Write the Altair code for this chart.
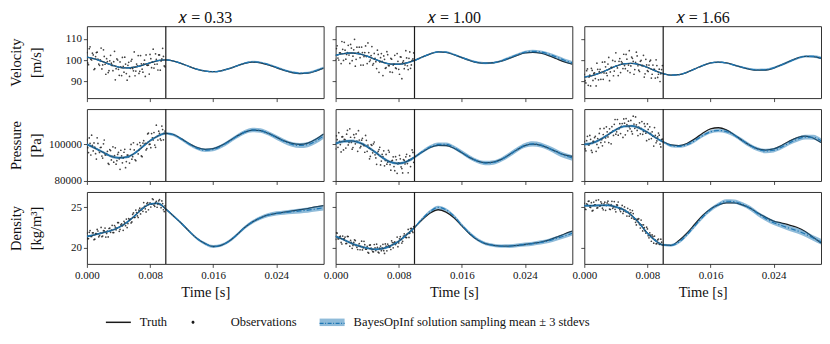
import altair as alt
import pandas as pd

# ---------------- data ----------------
T = [0.000, 0.001, 0.002, 0.003, 0.004, 0.005, 0.006, 0.007, 0.008, 0.009, 0.010,
     0.011, 0.012, 0.013, 0.014, 0.015, 0.016, 0.017, 0.018, 0.019, 0.020,
     0.021, 0.022, 0.023, 0.024, 0.025, 0.026, 0.027, 0.028, 0.029, 0.030]

T_OBS = [0.0000, 0.0002, 0.0004, 0.0006, 0.0008, 0.0010, 0.0012, 0.0014, 0.0016, 0.0018,
         0.0020, 0.0022, 0.0024, 0.0026, 0.0028, 0.0030, 0.0032, 0.0034, 0.0036, 0.0038,
         0.0040, 0.0042, 0.0044, 0.0046, 0.0048, 0.0050, 0.0052, 0.0054, 0.0056, 0.0058,
         0.0060, 0.0062, 0.0064, 0.0066, 0.0068, 0.0070, 0.0072, 0.0074, 0.0076, 0.0078,
         0.0080, 0.0082, 0.0084, 0.0086, 0.0088, 0.0090, 0.0092, 0.0094, 0.0096, 0.0098]
T_OBS2 = [0.0001, 0.0003, 0.0005, 0.0007, 0.0009, 0.0011, 0.0013, 0.0015, 0.0017, 0.0019,
          0.0021, 0.0023, 0.0025, 0.0027, 0.0029, 0.0031, 0.0033, 0.0035, 0.0037, 0.0039,
          0.0041, 0.0043, 0.0045, 0.0047, 0.0049, 0.0051, 0.0053, 0.0055, 0.0057, 0.0059,
          0.0061, 0.0063, 0.0065, 0.0067, 0.0069, 0.0071, 0.0073, 0.0075, 0.0077, 0.0079,
          0.0081, 0.0083, 0.0085, 0.0087, 0.0089, 0.0091, 0.0093, 0.0095, 0.0097, 0.0099]

# Velocity
VEL_TRUTH_033 = [101.5, 100.6, 99.3, 97.9, 96.8, 96.4, 96.7, 97.6, 98.8, 99.8, 100.2, 99.6, 98.4, 97.0, 95.7, 94.9,
                 94.6, 95.0, 96.0, 97.3, 98.5, 99.1, 98.8, 97.8, 96.5, 95.2, 94.2, 93.7, 93.9, 94.9, 96.3]
VEL_MEAN_033 = [101.5, 100.6, 99.3, 97.9, 96.8, 96.4, 96.7, 97.6, 98.8, 99.8, 100.2, 99.6, 98.4, 97.0, 95.7, 94.9,
                94.6, 95.0, 96.0, 97.3, 98.6, 99.3, 99.0, 98.0, 96.7, 95.4, 94.4, 93.9, 94.1, 95.1, 96.5]
VEL_HW_033 = [0.3, 0.3, 0.3, 0.3, 0.3, 0.3, 0.3, 0.3, 0.3, 0.3, 0.3, 0.3, 0.3, 0.3, 0.35, 0.35,
              0.35, 0.4, 0.4, 0.4, 0.4, 0.45, 0.45, 0.45, 0.45, 0.5, 0.5, 0.5, 0.5, 0.5, 0.5]
VEL_OBS_033 = [103.6, 97.9, 106.3, 100.1, 102.5, 96.0, 103.6, 100.5, 97.6, 105.7, 97.8, 101.8, 93.4, 99.4, 95.1,
               102.3, 97.5, 99.3, 90.8, 100.6, 95.7, 99.2, 92.8, 97.1, 101.4, 93.7, 97.6, 92.4, 99.6, 96.1,
               103.9, 94.9, 97.4, 93.8, 102.2, 95.8, 98.3, 92.4, 97.7, 97.7, 102.7, 96.5, 105.2, 98.1, 100.4,
               95.4, 102.5, 99.6, 105.6, 97.3]
VEL_OBS2_033 = [98.7, 105.4, 100.5, 103.3, 95.6, 101.7, 103.8, 98.2, 100.2, 95.9, 104.9, 98.1, 100.7, 94.2, 99.7,
                98.6, 95.1, 104.2, 96.0, 100.1, 92.9, 96.9, 101.3, 94.4, 98.2, 90.6, 99.0, 96.2, 100.4, 95.0,
                92.7, 98.2, 102.2, 94.8, 98.3, 94.4, 100.0, 102.5, 97.6, 93.5, 100.7, 99.1, 96.3, 103.0, 98.2,
                102.5, 95.3, 100.6, 101.8, 96.9]

VEL_TRUTH_100 = [102.3, 103.1, 103.4, 103.0, 101.9, 100.4, 99.0, 98.2, 98.1, 98.7, 99.9, 101.5, 103.0, 103.9, 103.7,
                 102.6, 101.2, 99.9, 98.9, 98.6, 98.8, 99.6, 100.9, 102.3, 103.4, 103.7, 103.3, 102.2, 100.7, 99.2, 98.2]
VEL_MEAN_100 = [102.3, 103.1, 103.4, 103.0, 101.9, 100.4, 99.0, 98.2, 98.1, 98.7, 99.9, 101.5, 103.0, 103.9, 103.8,
                102.7, 101.3, 100.0, 99.0, 98.6, 98.8, 99.7, 101.1, 102.6, 103.8, 104.2, 103.9, 102.9, 101.5, 100.0, 98.8]
VEL_HW_100 = [0.35, 0.35, 0.35, 0.35, 0.35, 0.35, 0.35, 0.35, 0.35, 0.35, 0.35, 0.4, 0.4, 0.4, 0.4, 0.45,
              0.45, 0.45, 0.5, 0.5, 0.5, 0.55, 0.6, 0.6, 0.65, 0.7, 0.7, 0.75, 0.8, 0.8, 0.85]
VEL_OBS_100 = [100.4, 106.8, 100.1, 103.5, 108.8, 99.9, 104.7, 102.7, 107.0, 98.5, 105.7, 101.9, 109.8, 100.4, 103.3,
               106.1, 97.7, 103.6, 101.7, 106.7, 98.4, 103.6, 100.1, 106.4, 98.4, 100.9, 96.1, 102.7, 99.2, 103.1,
               92.8, 100.4, 96.5, 102.6, 97.4, 100.9, 94.3, 98.2, 96.4, 103.1, 95.7, 101.6, 91.3, 99.7, 97.8,
               101.1, 95.6, 103.9, 97.8, 100.6]
VEL_OBS2_100 = [105.5, 101.0, 103.5, 98.4, 105.1, 108.4, 100.5, 103.6, 102.4, 107.4, 99.8, 104.9, 97.2, 106.1, 103.7,
                101.2, 106.2, 97.7, 103.6, 101.7, 108.1, 99.4, 102.2, 97.7, 103.2, 99.3, 104.7, 94.3, 101.2, 99.5,
                102.0, 96.2, 104.0, 97.5, 94.5, 100.5, 97.7, 102.3, 96.1, 99.5, 93.4, 101.5, 99.0, 96.0, 104.5,
                97.4, 100.9, 96.2, 99.9, 103.4]

VEL_TRUTH_166 = [92.1, 92.8, 94.0, 95.6, 97.2, 98.3, 98.5, 97.9, 96.6, 95.0, 93.7, 93.0, 93.2, 94.3, 95.9, 97.5,
                 98.7, 99.1, 98.7, 97.7, 96.6, 95.7, 95.3, 95.4, 96.3, 97.8, 99.5, 101.0, 101.8, 101.7, 100.9]
VEL_MEAN_166 = [92.1, 92.8, 94.0, 95.6, 97.2, 98.3, 98.5, 97.9, 96.6, 95.0, 93.7, 93.0, 93.2, 94.3, 95.9, 97.5,
                98.7, 99.1, 98.7, 97.7, 96.7, 95.9, 95.5, 95.6, 96.4, 97.8, 99.4, 100.9, 101.8, 101.8, 101.1]
VEL_HW_166 = [0.3, 0.3, 0.3, 0.3, 0.3, 0.3, 0.3, 0.3, 0.3, 0.3, 0.3, 0.35, 0.35, 0.35, 0.35, 0.4,
              0.4, 0.4, 0.4, 0.45, 0.45, 0.45, 0.5, 0.5, 0.5, 0.5, 0.55, 0.55, 0.55, 0.6, 0.6]
VEL_OBS_166 = [93.3, 89.3, 95.9, 92.1, 87.9, 95.2, 93.8, 91.4, 98.6, 90.8, 95.7, 94.2, 91.0, 99.2, 93.9,
               98.2, 90.4, 96.6, 99.9, 94.9, 103.5, 96.4, 99.5, 94.2, 98.7, 102.8, 96.0, 100.5, 97.7, 94.2,
               101.5, 99.5, 95.6, 103.8, 97.4, 94.7, 99.9, 97.6, 92.1, 100.4, 95.1, 97.7, 100.0, 93.4, 95.7,
               91.6, 97.5, 93.4, 90.0, 95.6]
VEL_OBS2_166 = [90.4, 95.1, 88.2, 93.0, 96.2, 90.5, 94.0, 87.9, 95.7, 94.6, 91.0, 99.1, 94.0, 96.9, 92.8,
                101.3, 94.5, 96.6, 92.7, 99.5, 97.3, 92.8, 100.8, 99.4, 96.1, 97.5, 102.7, 95.0, 104.5, 97.3,
                100.9, 93.4, 99.0, 102.0, 95.3, 99.5, 97.4, 102.3, 93.6, 97.8, 94.7, 99.5, 91.6, 97.7, 95.7,
                100.2, 91.9, 95.8, 93.6, 97.5]

# Pressure
PRES_TRUTH_033 = [100000, 98000, 95800, 93600, 92700, 93000, 95000, 98500, 102000, 104600, 106000, 105300, 103000,
                  100300, 98200, 97300, 97700, 99300, 101800, 104500, 106700, 107800, 107500, 106000, 104000, 101900,
                  100500, 100000, 100700, 102800, 105700]
PRES_MEAN_033 = [100000, 98000, 95800, 93600, 92700, 93000, 95000, 98500, 102000, 104600, 106000, 105200, 102800,
                 100000, 97800, 96800, 97200, 98900, 101500, 104300, 106700, 107900, 107600, 106000, 103800, 101600,
                 100000, 99400, 99900, 101800, 104600]
PRES_HW_033 = [700, 700, 700, 700, 700, 700, 700, 700, 700, 700, 700, 800, 800, 900, 900, 1000,
               1000, 1000, 1100, 1100, 1100, 1200, 1200, 1200, 1300, 1300, 1300, 1400, 1400, 1500, 1500]
PRES_OBS_033 = [102600, 95500, 100500, 105000, 96400, 98500, 92000, 100500, 95600, 98400, 92500, 102400, 94200,
                96200, 89100, 96600, 93500, 90300, 98100, 91100, 95600, 86400, 93700, 92500, 97300, 90600, 94100,
                89800, 100000, 93300, 97000, 91100, 100000, 96900, 99300, 93300, 102000, 100500, 97700, 106200,
                100100, 105900, 102400, 99600, 110500, 102400, 106000, 102200, 108100, 106200]
PRES_OBS2_033 = [98200, 103500, 94200, 99500, 100800, 94900, 103600, 96700, 98300, 93600, 100300, 94300, 95000,
                 89600, 97200, 91500, 98700, 93900, 89200, 94500, 92100, 96800, 89900, 95700, 87300, 94200, 93200,
                 97300, 91900, 100900, 91600, 96100, 94800, 101000, 93700, 100700, 100000, 97000, 105700, 100000,
                 98200, 103600, 106500, 98400, 104400, 107200, 103000, 110000, 102500, 107300]

PRES_TRUTH_100 = [100500, 101600, 101900, 101000, 98800, 95800, 92600, 90300, 89600, 90600, 93000, 95900, 98300,
                  99500, 99400, 97900, 95400, 92800, 90900, 90000, 90300, 91800, 94300, 97100, 99300, 100100, 99500,
                  97900, 96000, 94300, 93500]
PRES_MEAN_100 = [100500, 101600, 101900, 101000, 98800, 95800, 92600, 90300, 89600, 90600, 93000, 96100, 98700,
                 100000, 100000, 98400, 95700, 92900, 90800, 89800, 90100, 91700, 94300, 97200, 99500, 100300, 99700,
                 98000, 95900, 93900, 92600]
PRES_HW_100 = [800, 800, 800, 800, 800, 800, 800, 800, 800, 800, 800, 900, 900, 1000, 1000, 1000,
               1100, 1100, 1100, 1200, 1200, 1200, 1300, 1300, 1300, 1400, 1400, 1400, 1500, 1500, 1500]
PRES_OBS_100 = [97500, 102600, 106400, 99900, 104100, 97000, 102600, 105600, 99700, 108500, 101100, 98300, 103700,
                105700, 96200, 102400, 98900, 103300, 99300, 104900, 96200, 98300, 93400, 99500, 100300, 94300,
                89100, 96200, 98400, 90900, 93300, 88300, 94500, 90300, 95800, 85900, 91300, 87900, 93300, 84200,
                89900, 92100, 86800, 91700, 89300, 94600, 84500, 93700, 91800, 95600]
PRES_OBS2_100 = [104700, 98400, 101600, 95900, 104200, 102700, 98000, 107700, 101100, 103900, 97400, 105300, 100300,
                 101800, 107500, 98100, 102300, 99900, 95700, 102200, 99600, 92100, 99900, 95400, 101300, 92600,
                 95200, 97200, 88800, 94600, 96500, 91200, 89200, 96800, 89000, 90800, 93200, 85600, 91600, 89300,
                 94000, 87700, 84400, 91300, 93200, 89500, 91600, 87900, 97000, 90200]

PRES_TRUTH_166 = [100000, 100700, 102600, 105300, 108000, 109800, 110100, 108900, 106600, 103800, 101400, 99700,
                  99300, 100500, 103000, 106100, 108500, 109100, 107900, 105300, 102200, 99500, 97600, 96900, 97500,
                  99400, 101800, 103700, 104500, 103500, 101000]
PRES_MEAN_166 = [100000, 100700, 102600, 105300, 108000, 109800, 110100, 108900, 106600, 103800, 101300, 99300,
                 98900, 99800, 102000, 104800, 106900, 107600, 107000, 105000, 102200, 99400, 97300, 96400, 96800,
                 98500, 100800, 102800, 104000, 103900, 102000]
PRES_HW_166 = [700, 700, 700, 700, 700, 700, 700, 700, 700, 700, 700, 800, 800, 800, 900, 900,
               900, 1000, 1000, 1000, 1100, 1100, 1100, 1200, 1200, 1200, 1200, 1300, 1300, 1300, 1300]
PRES_OBS_166 = [101500, 96500, 104400, 99600, 102800, 95600, 101600, 104400, 100000, 98200, 108600, 102600, 105400,
                101300, 109600, 104100, 108500, 100300, 107300, 111000, 105600, 113600, 108500, 105900, 111400,
                113900, 105200, 110800, 112700, 108500, 107100, 115400, 108800, 110700, 104800, 111800, 108700,
                105500, 111300, 106100, 111200, 102800, 106000, 106900, 99100, 104900, 101900, 106200, 100200, 102600]
PRES_OBS2_166 = [97500, 102000, 99900, 104900, 96700, 101600, 103700, 96200, 103200, 106000, 101000, 99200, 108700,
                 103500, 106900, 101000, 106300, 109700, 104900, 113600, 106900, 105000, 111300, 109800, 103800,
                 111600, 114100, 107400, 109600, 113100, 105700, 111100, 115000, 107600, 109400, 105800, 112500,
                 107100, 109800, 102000, 108200, 109600, 103200, 104500, 109200, 100900, 104100, 105000, 98600, 102900]

# Density
DENS_TRUTH_033 = [21.4, 21.6, 21.85, 22.1, 22.5, 23.1, 23.9, 24.8, 25.4, 25.5, 24.8, 23.9, 23.0, 22.0, 21.1, 20.5,
                  20.15, 20.3, 20.8, 21.6, 22.5, 23.2, 23.7, 24.05, 24.25, 24.4, 24.55, 24.7, 24.85, 25.05, 25.2]
DENS_MEAN_033 = [21.4, 21.6, 21.85, 22.1, 22.5, 23.1, 23.9, 24.8, 25.4, 25.5, 24.8, 23.9, 23.0, 22.0, 21.1, 20.5,
                 20.15, 20.3, 20.8, 21.6, 22.5, 23.2, 23.7, 24.05, 24.25, 24.35, 24.45, 24.55, 24.65, 24.8, 24.95]
DENS_HW_033 = [0.12, 0.12, 0.12, 0.12, 0.12, 0.12, 0.12, 0.12, 0.12, 0.12, 0.12, 0.14, 0.15, 0.16, 0.17, 0.18,
               0.18, 0.19, 0.2, 0.2, 0.21, 0.22, 0.23, 0.24, 0.25, 0.27, 0.29, 0.3, 0.32, 0.33, 0.35]
DENS_OBS_033 = [21.82, 21.13, 22.13, 21.40, 21.84, 21.05, 21.74, 22.07, 21.51, 22.51, 21.45, 22.08, 21.32, 22.05,
                22.38, 21.91, 22.78, 21.88, 22.56, 22.42, 23.10, 22.27, 22.96, 22.16, 23.09, 23.55, 22.99, 23.45,
                23.07, 24.13, 23.75, 24.66, 23.93, 24.64, 24.18, 24.88, 25.59, 24.82, 25.46, 24.70, 25.56, 25.39,
                25.96, 25.13, 25.75, 25.37, 25.95, 24.96, 25.46, 24.47]
DENS_OBS2_033 = [21.12, 21.90, 21.39, 21.85, 20.99, 21.75, 22.26, 21.35, 21.77, 21.36, 22.11, 22.43, 21.77, 21.34,
                 22.43, 22.17, 21.87, 22.75, 22.22, 23.12, 22.03, 22.82, 22.71, 23.27, 22.73, 22.50, 23.60, 23.54,
                 23.19, 24.30, 23.76, 24.35, 23.74, 24.89, 24.68, 24.50, 25.11, 24.43, 25.59, 25.38, 25.04, 26.06,
                 25.27, 25.58, 25.01, 25.81, 25.33, 25.79, 24.70, 25.19]

DENS_TRUTH_100 = [21.4, 21.0, 20.55, 20.2, 19.95, 19.8, 19.9, 20.25, 20.8, 21.6, 22.5, 23.5, 24.3, 24.7, 24.4, 23.7,
                  22.7, 21.7, 20.95, 20.5, 20.3, 20.2, 20.2, 20.3, 20.4, 20.55, 20.7, 20.95, 21.3, 21.7, 22.05]
DENS_MEAN_100 = [21.4, 21.0, 20.55, 20.2, 19.95, 19.8, 19.9, 20.25, 20.8, 21.6, 22.5, 23.6, 24.5, 25.0, 24.7, 23.9,
                 22.8, 21.8, 21.0, 20.5, 20.3, 20.2, 20.2, 20.3, 20.4, 20.5, 20.65, 20.85, 21.15, 21.45, 21.8]
DENS_HW_100 = [0.15, 0.15, 0.15, 0.15, 0.15, 0.15, 0.15, 0.15, 0.15, 0.15, 0.15, 0.17, 0.19, 0.2, 0.2, 0.2,
               0.2, 0.2, 0.2, 0.2, 0.2, 0.21, 0.22, 0.23, 0.24, 0.25, 0.26, 0.27, 0.28, 0.29, 0.3]
DENS_OBS_100 = [21.04, 21.82, 21.10, 21.43, 20.46, 21.08, 21.32, 20.53, 21.39, 20.19, 20.67, 20.28, 20.98, 20.27,
                19.78, 20.51, 20.17, 19.72, 20.79, 19.84, 20.18, 19.34, 20.34, 19.76, 19.50, 19.99, 20.44, 19.45,
                19.94, 19.63, 20.42, 19.29, 20.19, 20.45, 20.07, 19.78, 20.64, 20.62, 20.39, 21.32, 20.59, 21.36,
                20.58, 21.45, 21.53, 21.25, 22.26, 21.78, 22.40, 21.89]
DENS_OBS2_100 = [21.84, 21.10, 21.33, 20.65, 21.44, 21.13, 20.51, 21.40, 20.67, 20.91, 19.92, 20.66, 20.88, 20.05,
                 20.30, 19.75, 20.81, 19.99, 20.37, 19.81, 19.41, 20.32, 19.94, 19.52, 20.40, 19.65, 20.04, 19.36,
                 20.21, 19.99, 19.64, 20.47, 19.62, 20.27, 20.10, 20.86, 19.99, 20.71, 20.56, 20.13, 21.10, 21.03,
                 20.79, 21.73, 21.27, 21.74, 21.28, 22.35, 22.04, 22.60]

DENS_TRUTH_166 = [25.2, 25.2, 25.25, 25.25, 25.05, 24.7, 24.0, 23.0, 21.8, 20.9, 20.35, 20.3, 20.9, 21.8, 22.9, 24.0,
                  24.8, 25.3, 25.55, 25.55, 25.3, 24.9, 24.3, 23.75, 23.3, 23.05, 22.8, 22.5, 22.0, 21.3, 20.6]
DENS_MEAN_166 = [25.2, 25.2, 25.25, 25.25, 25.05, 24.7, 24.0, 23.0, 21.8, 20.9, 20.35, 20.3, 20.7, 21.6, 22.7, 23.8,
                 24.7, 25.35, 25.75, 25.7, 25.4, 24.9, 24.2, 23.6, 23.1, 22.75, 22.4, 22.1, 21.7, 21.2, 20.75]
DENS_HW_166 = [0.15, 0.15, 0.15, 0.15, 0.15, 0.15, 0.15, 0.15, 0.15, 0.15, 0.15, 0.17, 0.19, 0.21, 0.22, 0.23,
               0.24, 0.25, 0.26, 0.27, 0.27, 0.28, 0.29, 0.3, 0.3, 0.31, 0.32, 0.33, 0.33, 0.34, 0.35]
DENS_OBS_166 = [25.50, 24.73, 25.33, 25.78, 24.99, 24.56, 25.65, 25.29, 24.91, 25.93, 25.15, 25.50, 24.70, 25.63,
                25.22, 25.76, 24.79, 25.33, 24.87, 25.71, 24.45, 25.26, 24.92, 24.47, 25.24, 24.52, 24.63, 23.92,
                24.38, 24.70, 23.66, 24.23, 23.54, 22.82, 23.49, 22.87, 23.42, 22.08, 22.48, 21.81, 22.33, 21.23,
                21.55, 21.58, 20.56, 20.94, 20.51, 21.08, 20.42, 20.68]
DENS_OBS2_166 = [24.79, 25.44, 25.75, 25.04, 25.57, 24.62, 25.29, 25.85, 24.96, 25.19, 25.68, 24.89, 25.44, 24.63,
                 25.55, 25.37, 24.73, 25.74, 25.04, 24.76, 25.31, 25.66, 24.71, 24.88, 24.24, 25.05, 24.43, 24.88,
                 23.90, 24.35, 24.60, 23.56, 23.15, 23.54, 23.59, 22.44, 22.83, 22.84, 22.10, 22.54, 21.49, 21.85,
                 20.80, 21.37, 21.44, 20.48, 20.96, 20.42, 21.06, 20.34]

COL_TITLES = ["\U0001D465 = 0.33", "\U0001D465 = 1.00", "\U0001D465 = 1.66"]
ROW_TITLES = [["Velocity", "[m/s]"], ["Pressure", "[Pa]"], ["Density", "[kg/m\u00b3]"]]
Y_DOMAINS = [[82.2, 116.0], [80000, 119300], [18.0, 26.9]]
Y_TICKS = [[90, 100, 110], [80000, 100000], [20, 25]]
X_DOMAIN = [0.0, 0.03]
X_TICKS = [0.0, 0.008, 0.016, 0.024]
SPLIT_T = [0.01]

SERIES = ["Truth", "Observations", "BayesOpInf solution sampling mean \u00b1 3 stdevs"]
SERIES_COLORS = ["#1a1a1a", "#1a1a1a", "#8fbbd9"]
SERIES_SHAPES = ["M-1,-0.06H1V0.06H-1Z",
                 "M-1.42,0A0.12,0.12 0 1,0 -1.18,0A0.12,0.12 0 1,0 -1.42,0Z",
                 "M-1,-0.3H1V0.3H-1Z"]
MEAN_KEY = ["mean"]

DATA = [
    [(VEL_TRUTH_033, VEL_MEAN_033, VEL_HW_033, VEL_OBS_033, VEL_OBS2_033),
     (VEL_TRUTH_100, VEL_MEAN_100, VEL_HW_100, VEL_OBS_100, VEL_OBS2_100),
     (VEL_TRUTH_166, VEL_MEAN_166, VEL_HW_166, VEL_OBS_166, VEL_OBS2_166)],
    [(PRES_TRUTH_033, PRES_MEAN_033, PRES_HW_033, PRES_OBS_033, PRES_OBS2_033),
     (PRES_TRUTH_100, PRES_MEAN_100, PRES_HW_100, PRES_OBS_100, PRES_OBS2_100),
     (PRES_TRUTH_166, PRES_MEAN_166, PRES_HW_166, PRES_OBS_166, PRES_OBS2_166)],
    [(DENS_TRUTH_033, DENS_MEAN_033, DENS_HW_033, DENS_OBS_033, DENS_OBS2_033),
     (DENS_TRUTH_100, DENS_MEAN_100, DENS_HW_100, DENS_OBS_100, DENS_OBS2_100),
     (DENS_TRUTH_166, DENS_MEAN_166, DENS_HW_166, DENS_OBS_166, DENS_OBS2_166)],
]

FONT = "Liberation Serif"
PW, PH = 237, 72
LEG_X, LEG_Y = 19, 284


def panel(r, c):
    truth, mean, hw, obs, obs2 = DATA[r][c]
    cdf = pd.DataFrame({
        "t": T, "truth": truth, "mean": mean,
        "lo": [m - h for m, h in zip(mean, hw)],
        "hi": [m + h for m, h in zip(mean, hw)],
    })
    odf = pd.DataFrame({"t": T_OBS + T_OBS2, "v": obs + obs2})
    sdf = pd.DataFrame({"t": SPLIT_T})

    bottom = (r == 2)
    left = (c == 0)
    xaxis = alt.Axis(values=X_TICKS, format=".3f", labels=bottom, labelFlush=False, titlePadding=5)
    if left:
        yaxis = alt.Axis(values=Y_TICKS[r], format="d", labels=True, titleX=-70, titleY=PH / 2,
                         titleBaseline="middle", titleAlign="center", titleAngle=270,
                         titleLineHeight=20)
    else:
        yaxis = alt.Axis(values=Y_TICKS[r], labels=False)

    xs = alt.Scale(domain=X_DOMAIN, nice=False, zero=False)
    ys = alt.Scale(domain=Y_DOMAINS[r], nice=False, zero=False)
    xtitle = "Time [s]" if bottom else None
    ytitle = ROW_TITLES[r] if left else None

    def X():
        return alt.X("t:Q", scale=xs, axis=xaxis, title=xtitle)

    def Y(f):
        return alt.Y(f + ":Q", scale=ys, axis=yaxis, title=ytitle)

    obs_l = alt.Chart(odf).mark_circle(size=3, color="#222222", opacity=0.85, clip=True).encode(
        x=X(), y=Y("v"))
    truth_l = alt.Chart(cdf).mark_line(color="#1a1a1a", strokeWidth=1.3, interpolate="monotone",
                                       clip=True).encode(x=X(), y=Y("truth"))
    band_l = alt.Chart(cdf).mark_area(color="#1f77b4", opacity=0.5, interpolate="monotone",
                                      clip=True).encode(x=X(), y=Y("lo"), y2="hi:Q")
    mean_l = alt.Chart(cdf).mark_line(color="#1f77b4", strokeWidth=1.2, strokeDash=[5, 2, 1.2, 2],
                                      interpolate="monotone", clip=True).encode(x=X(), y=Y("mean"))
    rule_l = alt.Chart(sdf).mark_rule(color="#1a1a1a", strokeWidth=1.2).encode(x=X())

    layers = [obs_l, truth_l, band_l, mean_l, rule_l]
    if r == 0 and c == 0:
        leg = alt.Legend(title=None, orient="none", legendX=LEG_X, legendY=LEG_Y, direction="horizontal",
                         symbolSize=625, symbolStrokeWidth=0, labelFont=FONT, labelFontSize=12.5,
                         labelColor="#111111", labelOffset=9, columnPadding=23, labelLimit=400)
        dummy = alt.Chart(pd.DataFrame({"s": SERIES})).transform_filter("false").mark_point(
            filled=True, opacity=1).encode(
            color=alt.Color("s:N", scale=alt.Scale(domain=SERIES, range=SERIES_COLORS), legend=leg),
            shape=alt.Shape("s:N", scale=alt.Scale(domain=SERIES, range=SERIES_SHAPES), legend=leg),
        )
        dash_leg = alt.Legend(title=None, orient="none", legendX=LEG_X + 213, legendY=LEG_Y,
                              symbolType="stroke", symbolSize=625, symbolStrokeWidth=1.2,
                              symbolStrokeColor="#1f77b4", labelExpr="''", zindex=2)
        dash_dummy = alt.Chart(pd.DataFrame({"m": MEAN_KEY})).transform_filter("false").mark_point(
            filled=False, opacity=1, color="#1f77b4", strokeWidth=1.2).encode(
            strokeDash=alt.StrokeDash("m:N", scale=alt.Scale(domain=MEAN_KEY, range=[[4, 1.5, 1, 1.5]]),
                                      legend=dash_leg)
        )
        layers += [dummy, dash_dummy]

    ch = alt.layer(*layers).properties(width=PW, height=PH)
    if r == 0:
        ch = ch.properties(title=alt.TitleParams(COL_TITLES[c], font=FONT, fontSize=16,
                                                 fontWeight="normal", color="#111111", offset=0))
    return ch


panels = [panel(r, c) for r in range(3) for c in range(3)]
chart = alt.concat(*panels, columns=3, spacing={"row": 11, "column": 12}, bounds="flush").properties(
    padding={"left": 0, "top": 0, "right": 0, "bottom": 0}
).configure_view(
    stroke="#333333", strokeWidth=1
).configure_axis(
    labelFont=FONT, labelFontSize=11, labelColor="#111111", labelPadding=2,
    tickColor="#222222", tickSize=3.5, tickWidth=0.8, domain=False, grid=False,
    titleFont=FONT, titleFontSize=14.5, titleFontWeight="normal", titleColor="#111111",
)

chart.save("out.html", embed_options={"renderer": "svg", "actions": False})
